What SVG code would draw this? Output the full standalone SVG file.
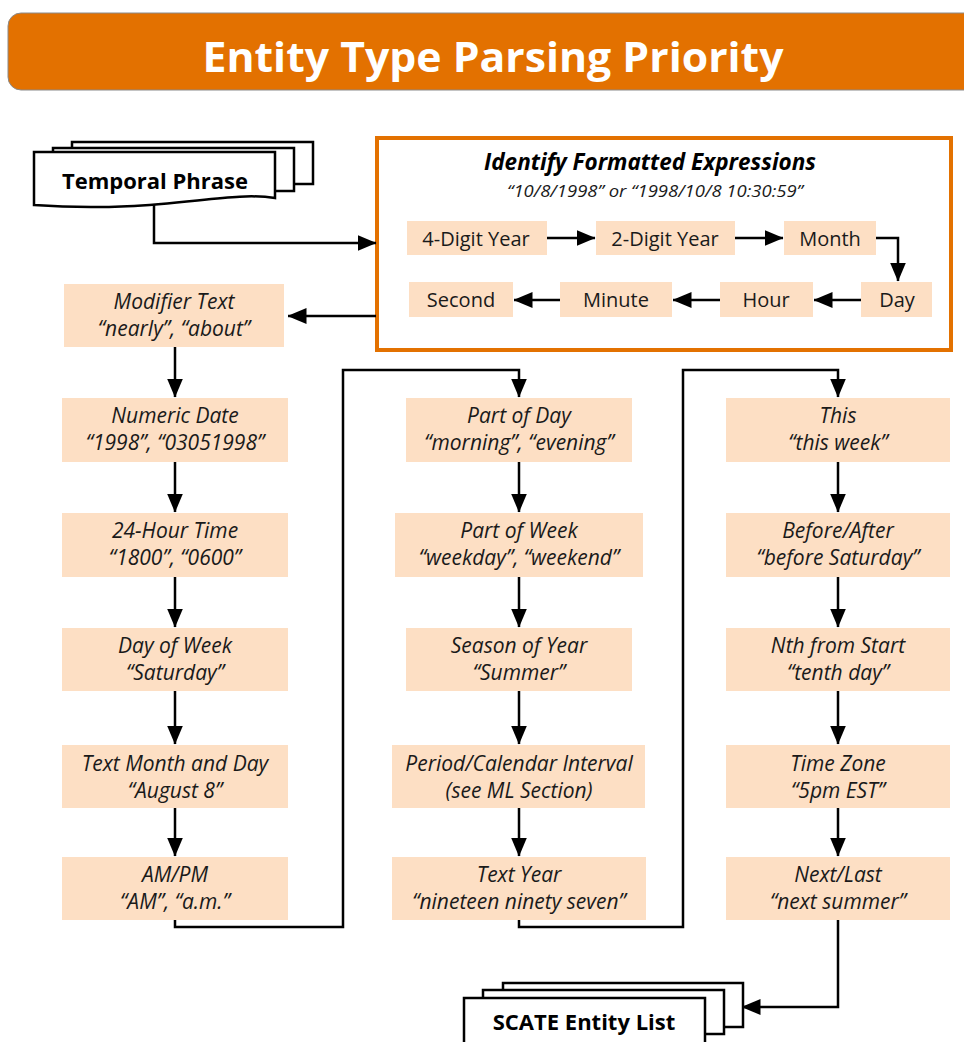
<svg xmlns="http://www.w3.org/2000/svg" width="964" height="1042" viewBox="0 0 964 1042">
<defs>
<style>
.box{fill:#FDDFC4;}
.t{font-family:"Open Sans","Liberation Sans",sans-serif;font-size:21px;font-style:italic;fill:#1a1a1a;text-anchor:middle;}
.s{font-family:"Open Sans","Liberation Sans",sans-serif;font-size:20px;fill:#1a1a1a;text-anchor:middle;}
.doc{fill:#fff;stroke:#000;stroke-width:2.5;}
.dt{font-family:"Open Sans","Liberation Sans",sans-serif;font-size:22px;font-weight:bold;fill:#000;text-anchor:middle;}
.ca{fill:none;stroke:#000;stroke-width:2.5;marker-end:url(#ah);}
</style>
<marker id="ah" markerUnits="userSpaceOnUse" viewBox="0 0 19 16" refX="18.5" refY="8" markerWidth="19" markerHeight="16" orient="auto">
<path d="M0,0 L19,8 L0,16 Z" fill="#000"/>
</marker>
</defs>
<rect width="964" height="1042" fill="#fff"/>
<g id="title">
<rect x="8" y="13" width="980" height="77" rx="13" fill="#E37100" stroke="#8a8a8a" stroke-width="1"/>
<text x="493" y="72" font-family="Open Sans, Liberation Sans, sans-serif" font-size="42" font-weight="bold" fill="#fff" text-anchor="middle" textLength="581" lengthAdjust="spacingAndGlyphs">Entity Type Parsing Priority</text>
</g>
<g id="formatted-expressions">
<rect x="377" y="138" width="574" height="212" fill="#fff" stroke="#E37100" stroke-width="4"/>
<text x="650" y="170" font-family="Open Sans, Liberation Sans, sans-serif" font-size="22.5" font-weight="bold" font-style="italic" fill="#000" text-anchor="middle">Identify Formatted Expressions</text>
<text x="655" y="197" font-family="Open Sans, Liberation Sans, sans-serif" font-size="16" font-style="italic" fill="#1a1a1a" text-anchor="middle" textLength="296" lengthAdjust="spacingAndGlyphs">“10/8/1998” or “1998/10/8 10:30:59”</text>
</g>
<g id="connectors">
<path class="ca" d="M154,205 V243 H376"/>
<path class="ca" d="M376,316 H288"/>
<path class="ca" d="M175,347 V397"/>
<path class="ca" d="M175,462 V512"/>
<path class="ca" d="M175,577 V627"/>
<path class="ca" d="M175,691 V744"/>
<path class="ca" d="M175,808 V856"/>
<path class="ca" d="M175,920 V927 H343 V370 H519 V397"/>
<path class="ca" d="M519,462 V512"/>
<path class="ca" d="M519,577 V627"/>
<path class="ca" d="M519,691 V744"/>
<path class="ca" d="M519,808 V856"/>
<path class="ca" d="M519,920 V927 H683 V370 H838 V397"/>
<path class="ca" d="M838,462 V512"/>
<path class="ca" d="M838,577 V627"/>
<path class="ca" d="M838,691 V744"/>
<path class="ca" d="M838,808 V856"/>
<path class="ca" d="M838,920 V1007 H742"/>
<path class="ca" d="M547,238 H595"/>
<path class="ca" d="M735,238 H783"/>
<path class="ca" d="M876,238 H898 V281"/>
<path class="ca" d="M861,300 H814"/>
<path class="ca" d="M720,300 H673"/>
<path class="ca" d="M560,300 H514"/>
</g>
<g id="temporal-phrase">
<rect class="doc" x="72" y="142" width="241" height="42"/>
<rect class="doc" x="53" y="148" width="241" height="43"/>
<path class="doc" d="M34,152 H275 V198 C225,190 160,214 34,205 Z"/>
<text class="dt" x="155" y="189">Temporal Phrase</text>
</g>
<g id="four-digit-year"><rect class="box" x="407" y="221" width="140" height="34"/><text class="s" x="476" y="246">4-Digit Year</text></g>
<g id="two-digit-year"><rect class="box" x="596" y="221" width="139" height="34"/><text class="s" x="665" y="246">2-Digit Year</text></g>
<g id="month"><rect class="box" x="784" y="221" width="92" height="34"/><text class="s" x="830" y="246">Month</text></g>
<g id="day"><rect class="box" x="861" y="282" width="71" height="35"/><text class="s" x="897" y="307">Day</text></g>
<g id="hour"><rect class="box" x="720" y="282" width="93" height="35"/><text class="s" x="766" y="307">Hour</text></g>
<g id="minute"><rect class="box" x="560" y="282" width="112" height="35"/><text class="s" x="616" y="307">Minute</text></g>
<g id="second"><rect class="box" x="409" y="282" width="104" height="35"/><text class="s" x="461" y="307">Second</text></g>

<g id="modifier-text"><rect class="box" x="64" y="284" width="220" height="63"/><text class="t" x="174" y="309">Modifier Text</text><text class="t" x="174" y="336">“nearly”, “about”</text></g>
<g id="numeric-date"><rect class="box" x="62" y="398" width="226" height="64"/><text class="t" x="175" y="423">Numeric Date</text><text class="t" x="175" y="450">“1998”, “03051998”</text></g>
<g id="hour-time"><rect class="box" x="62" y="513" width="226" height="64"/><text class="t" x="175" y="538">24-Hour Time</text><text class="t" x="175" y="565">“1800”, “0600”</text></g>
<g id="day-of-week"><rect class="box" x="62" y="628" width="226" height="63"/><text class="t" x="175" y="653">Day of Week</text><text class="t" x="175" y="680">“Saturday”</text></g>
<g id="text-month-day"><rect class="box" x="62" y="745" width="226" height="63"/><text class="t" x="175" y="771">Text Month and Day</text><text class="t" x="175" y="798">“August 8”</text></g>
<g id="am-pm"><rect class="box" x="62" y="857" width="226" height="63"/><text class="t" x="175" y="882">AM/PM</text><text class="t" x="175" y="909">“AM”, “a.m.”</text></g>

<g id="part-of-day"><rect class="box" x="406" y="398" width="226" height="64"/><text class="t" x="519" y="423">Part of Day</text><text class="t" x="519" y="450">“morning”, “evening”</text></g>
<g id="part-of-week"><rect class="box" x="395" y="513" width="248" height="64"/><text class="t" x="519" y="538">Part of Week</text><text class="t" x="519" y="565">“weekday”, “weekend”</text></g>
<g id="season-of-year"><rect class="box" x="406" y="628" width="226" height="63"/><text class="t" x="519" y="653">Season of Year</text><text class="t" x="519" y="680">“Summer”</text></g>
<g id="period-interval"><rect class="box" x="392" y="745" width="253" height="63"/><text class="t" x="519" y="771">Period/Calendar Interval</text><text class="t" x="519" y="798">(see ML Section)</text></g>
<g id="text-year"><rect class="box" x="392" y="857" width="254" height="63"/><text class="t" x="519" y="882">Text Year</text><text class="t" x="519" y="909">“nineteen ninety seven”</text></g>

<g id="this"><rect class="box" x="726" y="398" width="224" height="64"/><text class="t" x="838" y="423">This</text><text class="t" x="838" y="450">“this week”</text></g>
<g id="before-after"><rect class="box" x="726" y="513" width="224" height="64"/><text class="t" x="838" y="538">Before/After</text><text class="t" x="838" y="565">“before Saturday”</text></g>
<g id="nth-from-start"><rect class="box" x="726" y="628" width="224" height="63"/><text class="t" x="838" y="653">Nth from Start</text><text class="t" x="838" y="680">“tenth day”</text></g>
<g id="time-zone"><rect class="box" x="726" y="745" width="224" height="63"/><text class="t" x="838" y="771">Time Zone</text><text class="t" x="838" y="798">“5pm EST”</text></g>
<g id="next-last"><rect class="box" x="726" y="857" width="224" height="63"/><text class="t" x="838" y="882">Next/Last</text><text class="t" x="838" y="909">“next summer”</text></g>

<g id="scate-entity-list">
<rect class="doc" x="503" y="983" width="240" height="44"/>
<rect class="doc" x="483" y="990" width="241" height="44"/>
<path class="doc" d="M464,998 H705 V1060 H464 Z"/>
<text class="dt" x="584" y="1030">SCATE Entity List</text>
</g>
</svg>
